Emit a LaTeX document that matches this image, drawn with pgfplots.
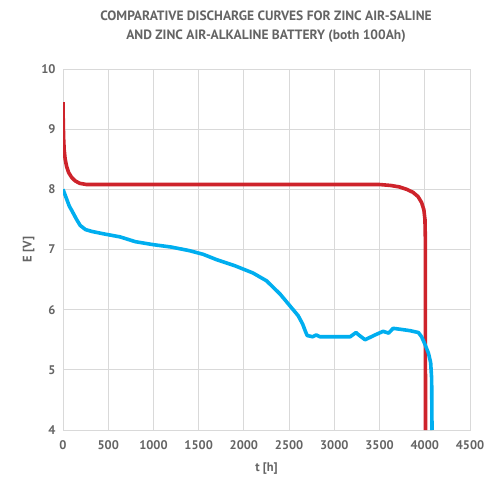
\documentclass[border=0pt]{standalone}
\usepackage{fontspec}
\setmainfont{PT Sans}
\usepackage{pgfplots}
\pgfplotsset{compat=1.18}
\definecolor{zred}{RGB}{206,35,43}
\definecolor{zblue}{RGB}{0,174,239}
\definecolor{gridc}{RGB}{217,217,217}
\definecolor{txt}{RGB}{100,100,100}
\begin{document}
\begin{tikzpicture}
\path[use as bounding box] (0,0) rectangle (487pt,477pt);
\node[text=txt, font=\bfseries\fontsize{13.5}{19}\selectfont, align=center] at (266pt,450pt)
  {COMPARATIVE DISCHARGE CURVES FOR ZINC AIR-SALINE\\AND ZINC AIR-ALKALINE BATTERY (both 100Ah)};
\begin{axis}[
    at={(63pt,47pt)}, anchor=south west,
    scale only axis,
    width=407pt, height=361pt,
    xmin=0, xmax=4500, ymin=4, ymax=10,
    xtick={0,500,...,4500},
    ytick={4,5,...,10},
    grid=major,
    grid style={gridc, line width=1pt},
    axis line style={gridc, line width=1pt},
    major tick length=0pt,
    tick label style={text=txt, font=\bfseries\fontsize{12.5}{14}\selectfont},
    xticklabel style={yshift=-7pt},
    yticklabel style={xshift=-4pt},
    /pgf/number format/assume math mode=true,
    /pgf/number format/set thousands separator={},
    xlabel={t [h]}, ylabel={E [V]},
    label style={text=txt, font=\bfseries\fontsize{12.5}{14}\selectfont},
    xlabel style={yshift=-6pt},
    ylabel style={yshift=0pt},
    clip=true,
]
\addplot[zred, line width=3.6pt, line join=round] coordinates {
    (0,9.45) (1,9.3) (3,9.1) (7,8.85) (13,8.66) (24,8.5) (40,8.38) (62,8.28) (95,8.2)
    (135,8.14) (185,8.1) (260,8.08) (1000,8.08) (2000,8.08) (3000,8.08)
    (3500,8.08) (3620,8.065) (3720,8.04) (3800,8.0) (3870,7.95) (3925,7.88)
    (3965,7.78) (3990,7.66) (4002,7.5) (4006,7.2) (4008,4)
};
\addplot[zblue, line width=3.6pt, line join=round] coordinates {
    (0,8.0) (20,7.92) (45,7.82) (70,7.72) (100,7.64) (150,7.5) (190,7.4)
    (250,7.33) (320,7.3) (450,7.26) (630,7.21) (800,7.13) (1000,7.08)
    (1200,7.04) (1400,6.98) (1550,6.92) (1700,6.83) (1900,6.73) (2100,6.61)
    (2250,6.48) (2400,6.26) (2500,6.08) (2600,5.9) (2650,5.76) (2680,5.64)
    (2700,5.57) (2760,5.55) (2800,5.58) (2840,5.55) (3000,5.55) (3175,5.55)
    (3240,5.62) (3270,5.58) (3340,5.5) (3450,5.58) (3540,5.64) (3600,5.61)
    (3650,5.69) (3750,5.67) (3840,5.65) (3930,5.62) (3965,5.55) (4000,5.43)
    (4040,5.28) (4065,5.12) (4076,4.85) (4080,4)
};
\end{axis}
\end{tikzpicture}
\end{document}
